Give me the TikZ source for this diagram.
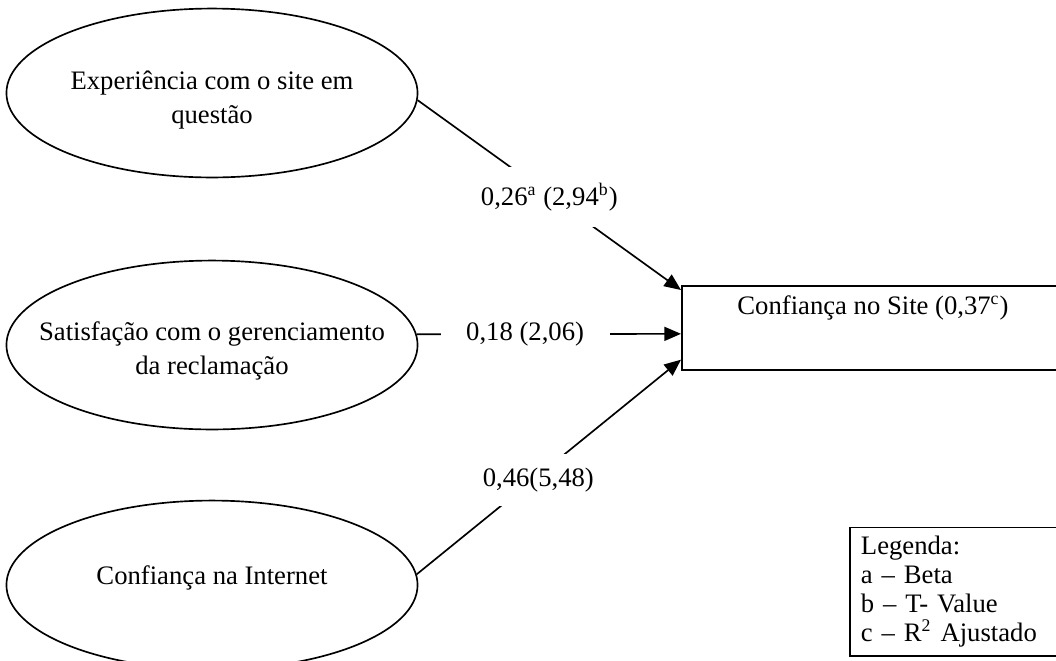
\documentclass[tikz,border=0pt]{standalone}
\usepackage{fontspec}
\setmainfont{Liberation Serif}
\usetikzlibrary{arrows.meta,shapes.geometric,calc}
\begin{document}
\begin{tikzpicture}[x=0.45pt,y=-0.45pt, line width=0.75pt,
  ell/.style={draw, ellipse, minimum width=185pt, minimum height=76pt,
    inner sep=0pt},
  etxt/.style={align=center, inner sep=0pt,
    font=\fontsize{12}{15.3}\selectfont},
  arr/.style={-{Triangle[length=7.5pt,width=6.3pt]}},
  lbl/.style={fill=white, font=\fontsize{12}{14}\selectfont, inner sep=0pt},
  txt/.style={font=\fontsize{12}{14}\selectfont, inner sep=0pt}
]
\useasboundingbox (0,0) rectangle (1056,660);
\clip (0,0) rectangle (1056,660);

\node[ell, label={[etxt, yshift=-3.1pt]center:{Experiência com o site em\\questão}}] (e1) at (212,93) {};
\node[ell, label={[etxt, yshift=-2.6pt]center:{Satisfação com o gerenciamento\\da reclamação}}] (e2) at (212,345) {};
\node[ell, label={[etxt, yshift=3.4pt]center:{Confiança na Internet}}] (e3) at (212,585) {};

\node[draw, minimum width=175pt, minimum height=37.8pt, anchor=north west,
  inner sep=0pt] (box) at (681,285) {};
\node[txt] (boxtxt) at (873,308) {Confiança no Site (0,37\textsuperscript{c})};

\node[draw, anchor=south west, text width=108pt, align=left, inner xsep=5pt,
  inner ysep=4pt, font=\fontsize{12}{13}\selectfont] (leg) at (849,657)
  {Legenda:\\a – Beta\\b – T- Value\\c – R\textsuperscript{2} Ajustado};

\draw[arr] (e1.-2.5) -- node[lbl, pos=0.5, minimum height=27pt, yshift=-1pt]
  {0,26\textsuperscript{a} (2,94\textsuperscript{b})}
  ($(box.north west)+(0,5)$);
\draw[arr] (e2.3.4) -- node[lbl, pos=0.41, minimum width=76pt]
  {0,18 (2,06)} ($(box.west)+(0,6)$);
\draw[arr] (e3.3.4) -- node[lbl, pos=0.46, minimum height=23.4pt, yshift=-2pt]
  {0,46(5,48)} ($(box.south west)+(0,-11)$);
\end{tikzpicture}
\end{document}
